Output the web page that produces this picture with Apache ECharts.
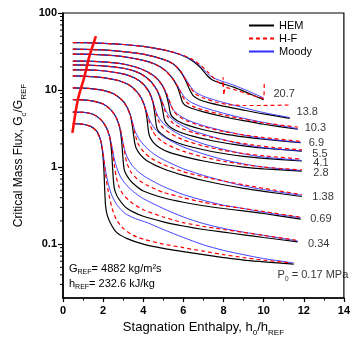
<!DOCTYPE html>
<html><head><meta charset="utf-8">
<script src="https://cdn.jsdelivr.net/npm/echarts@6/dist/echarts.min.js"></script>
<style>html,body{margin:0;padding:0;background:#fff}#c{width:353px;height:342px}</style>
</head><body><div id="c"></div>
<script>
// ---- tick labels / axis ----
const xTicks = [0, 2, 4, 6, 8, 10, 12, 14];
const yMinorTicks = [0.03,0.04,0.05,0.06,0.07,0.08,0.09,0.2,0.3,0.4,0.5,0.6,0.7,0.8,0.9,2,3,4,5,6,7,8,9,20,30,40,50,60,70,80,90];

// ---- pressure labels (MPa) and text anchor positions ----
const pressures = ['0.17','0.34','0.69','1.38','2.8','4.1','5.5','6.9','10.3','13.8','20.7'];
const labelPos = [[10.44,0.041],[11.96,0.104],[12.07,0.219],[12.18,0.427],[12.23,0.855],[12.23,1.15],[12.18,1.53],[12.0,2.15],[11.8,3.3],[11.39,5.35],[10.24,9.15]];

// ---- HEM ----
const hem017 = [[0.49,3.67],[1,3.6],[1.4,3.35],[1.7,2.9],[1.88,2.2],[1.98,1.5],[2.04,0.9],[2.08,0.5],[2.12,0.32],[2.2,0.24],[2.4,0.18],[2.7,0.14],[3.2,0.118],[4,0.1],[5,0.088],[6,0.08],[7,0.073],[8,0.067],[9,0.062],[10,0.059],[11.5,0.055]];
const hem034 = [[0.49,5.17],[1,5.15],[1.5,4.85],[1.9,4.1],[2.15,3.3],[2.32,2.5],[2.42,1.6],[2.48,0.9],[2.53,0.6],[2.6,0.48],[2.8,0.38],[3.2,0.29],[4,0.23],[5,0.195],[6,0.172],[7,0.155],[8,0.143],[9,0.132],[10,0.122],[11.7,0.107]];
const hem069 = [[0.49,7.5],[1,7.45],[1.5,7.2],[2,6.6],[2.4,5.5],[2.65,4.4],[2.82,3.3],[2.92,2.2],[2.98,1.4],[3.03,1.0],[3.1,0.85],[3.3,0.7],[3.6,0.58],[4,0.49],[5,0.4],[6,0.35],[7,0.315],[8,0.29],[9,0.27],[10,0.25],[11.85,0.211]];
const hem138 = [[0.49,10.7],[1,10.6],[1.5,10.35],[2,9.9],[2.5,9],[2.9,7.6],[3.15,6.3],[3.35,4.8],[3.45,3.5],[3.52,2.6],[3.57,2.1],[3.65,1.75],[3.85,1.45],[4.2,1.2],[5,0.95],[6,0.78],[7,0.67],[8,0.59],[9,0.53],[10,0.485],[11.9,0.415]];
const hem28 = [[0.49,15.3],[1,15.2],[2,14.5],[2.8,13.2],[3.3,11.6],[3.7,9.4],[3.95,7.5],[4.12,5.5],[4.2,4],[4.26,2.9],[4.32,2.5],[4.5,2.1],[4.8,1.8],[5.3,1.55],[6,1.38],[7,1.2],[8,1.08],[9,1.0],[10,0.95],[11.9,0.887]];
const hem41 = [[0.49,18.3],[1,18.3],[2,17.8],[3,16.2],[3.6,14.2],[4,12],[4.3,9.4],[4.48,7],[4.58,4.8],[4.64,3.6],[4.7,3.1],[4.9,2.7],[5.3,2.3],[6,1.95],[7,1.68],[8,1.5],[9,1.38],[10,1.3],[11.9,1.2]];
const hem55 = [[0.49,21.2],[1,21.1],[2,20.6],[3,19.2],[3.6,17.5],[4,15.6],[4.4,12.8],[4.7,9.8],[4.88,7.2],[4.98,5.3],[5.04,4.3],[5.12,3.8],[5.35,3.3],[5.8,2.85],[6.5,2.5],[7.5,2.18],[8.5,1.97],[9.5,1.82],[10.5,1.72],[11.9,1.61]];
const hem69 = [[0.49,23.7],[1,23.7],[2,23.2],[3,21.8],[3.7,19.6],[4.2,17.3],[4.6,14.8],[4.95,11.5],[5.15,8.7],[5.28,6.3],[5.35,5.0],[5.45,4.5],[5.7,4.0],[6.2,3.5],[7,3.05],[8,2.7],[9,2.47],[10,2.3],[11.85,2.07]];
const hem103 = [[0.49,29.2],[1,29.2],[2,28.6],[3,27.2],[4,24.3],[4.6,21.6],[5.1,18],[5.45,14.3],[5.7,11],[5.85,8.5],[5.95,7],[6.1,6.3],[6.4,5.8],[7,5.2],[8,4.5],[9,4.0],[10,3.6],[11.7,3.1]];
const hem138b = [[0.49,33.9],[1,33.8],[2,33.2],[3,31.6],[4,29.2],[5,25],[5.5,21.8],[5.85,17.5],[6.1,13.5],[6.3,10.3],[6.5,8.4],[6.8,7.5],[7.3,6.8],[8,6.2],[9,5.5],[10,4.9],[11.3,4.3]];
const hem207 = [[0.49,41.2],[1,41.2],[2,40.4],[3,39],[4,36.8],[5,33.3],[5.6,30.3],[6.1,27],[6.5,23.5],[6.85,19.5],[7.15,15.8],[7.45,13.5],[7.9,12.2],[8.5,10.9],[9.2,9.2],[10,7.5]];

// ---- H-F ----
const hf017 = [[0.49,3.67],[1,3.6],[1.4,3.35],[1.7,2.85],[1.9,2.1],[2.02,1.4],[2.1,0.9],[2.2,0.58],[2.32,0.4],[2.45,0.29],[2.65,0.21],[3,0.16],[3.5,0.13],[4,0.116],[5,0.1],[6,0.09],[7,0.081],[8,0.073],[9,0.067],[10,0.062],[11.4,0.057]];
const hf034 = [[0.49,5.17],[1,5.15],[1.5,4.85],[1.9,4.1],[2.15,3.3],[2.32,2.5],[2.45,1.7],[2.55,1.1],[2.65,0.75],[2.8,0.55],[3.0,0.44],[3.4,0.35],[4,0.28],[5,0.225],[6,0.19],[7,0.17],[8,0.155],[9,0.142],[10,0.13],[11.6,0.113]];
const hf069 = [[0.49,7.5],[1,7.45],[1.5,7.2],[2,6.6],[2.4,5.5],[2.65,4.4],[2.85,3.2],[2.98,2.2],[3.08,1.5],[3.2,1.1],[3.4,0.85],[3.7,0.7],[4.2,0.58],[5,0.47],[6,0.4],[7,0.35],[8,0.315],[9,0.29],[10,0.265],[11.8,0.225]];
const hf138 = [[0.49,10.7],[1,10.6],[1.5,10.35],[2,9.9],[2.5,9],[2.9,7.6],[3.15,6.2],[3.35,4.7],[3.5,3.4],[3.62,2.5],[3.75,2.0],[4.0,1.6],[4.4,1.3],[5,1.08],[6,0.87],[7,0.75],[8,0.66],[9,0.59],[10,0.53],[11.9,0.44]];
const hf28 = [[0.49,15.3],[1,15.2],[2,14.5],[2.8,13.2],[3.3,11.6],[3.7,9.3],[3.95,7.3],[4.15,5.3],[4.3,3.9],[4.45,3.0],[4.65,2.5],[5,2.1],[5.5,1.8],[6,1.6],[7,1.35],[8,1.19],[9,1.08],[10,1.0],[11.9,0.92]];
const hf41 = [[0.49,18.3],[1,18.3],[2,17.8],[3,16.2],[3.6,14.2],[4,11.9],[4.3,9.2],[4.5,6.8],[4.65,4.9],[4.8,3.8],[5.0,3.2],[5.4,2.7],[6,2.25],[7,1.88],[8,1.65],[9,1.5],[10,1.4],[11.9,1.27]];
const hf55 = [[0.49,21.2],[1,21.1],[2,20.6],[3,19.2],[3.6,17.5],[4,15.5],[4.4,12.6],[4.7,9.7],[4.92,7.2],[5.08,5.4],[5.22,4.5],[5.45,3.8],[5.9,3.2],[6.5,2.8],[7.5,2.4],[8.5,2.12],[9.5,1.93],[10.5,1.8],[11.9,1.67]];
const hf69 = [[0.49,23.7],[1,23.7],[2,23.2],[3,21.8],[3.7,19.5],[4.2,17.2],[4.6,14.6],[4.95,11.5],[5.2,8.6],[5.38,6.4],[5.52,5.3],[5.75,4.6],[6.2,3.95],[7,3.35],[8,2.9],[9,2.62],[10,2.42],[11.9,2.15]];
const hf103 = [[0.49,29.2],[1,29.2],[2,28.6],[3,27.2],[4,24.2],[4.6,21.5],[5.1,17.8],[5.45,14.2],[5.75,10.8],[5.95,8.4],[6.15,7],[6.5,6.1],[7,5.5],[8,4.75],[9,4.2],[10,3.75],[11.7,3.3]];
const hf138b = [[0.49,33.9],[1,33.8],[2,33.2],[3,31.6],[4,29.2],[5,25],[5.5,21.8],[5.85,17.8],[6.1,13.8],[6.35,10.8],[6.6,8.9],[7,7.9],[7.6,7.0],[8.2,6.5],[9,6.3],[10,6.3],[11.3,6.4]];
const hf207 = [[0.49,41.2],[1,41.2],[2,40.4],[3,39],[4,36.8],[5,33.3],[5.6,30.5],[6.1,27.5],[6.5,24.5],[6.9,20.5],[7.25,16.8],[7.6,13.6],[7.95,11.5],[7.98,14.6],[8.02,8.6],[8.1,10.8],[8.6,10],[9.2,8.9],[9.8,8],[10.0,7.8],[10.03,12.4]];

// ---- Moody ----
const mo017 = [[0.49,3.67],[1,3.6],[1.4,3.35],[1.7,2.85],[1.9,2.1],[2.0,1.5],[2.08,1.05],[2.18,0.75],[2.3,0.55],[2.45,0.42],[2.7,0.32],[3.1,0.25],[3.6,0.215],[4.2,0.19],[5,0.155],[6,0.122],[7,0.098],[8,0.083],[9,0.073],[10,0.065],[11.5,0.057]];
const mo034 = [[0.49,5.17],[1,5.15],[1.5,4.85],[1.9,4.1],[2.15,3.3],[2.32,2.5],[2.45,1.8],[2.55,1.3],[2.7,0.95],[2.9,0.72],[3.2,0.57],[3.6,0.46],[4,0.39],[5,0.29],[6,0.225],[7,0.185],[8,0.16],[9,0.143],[10,0.13],[11.7,0.11]];
const mo069 = [[0.49,7.5],[1,7.45],[1.5,7.2],[2,6.6],[2.4,5.5],[2.65,4.4],[2.82,3.3],[2.94,2.4],[3.05,1.75],[3.2,1.35],[3.45,1.05],[3.8,0.85],[4.2,0.72],[5,0.56],[6,0.44],[7,0.37],[8,0.32],[9,0.29],[10,0.26],[11.85,0.22]];
const mo138 = [[0.49,10.7],[1,10.6],[1.5,10.35],[2,9.9],[2.5,9],[2.9,7.6],[3.15,6.2],[3.35,4.8],[3.48,3.7],[3.6,2.9],[3.8,2.3],[4.1,1.85],[4.5,1.5],[5,1.25],[6,0.95],[7,0.78],[8,0.66],[9,0.57],[10,0.51],[11.9,0.43]];
const mo28 = [[0.49,15.3],[1,15.2],[2,14.5],[2.8,13.2],[3.3,11.6],[3.7,9.4],[3.95,7.5],[4.12,5.7],[4.25,4.5],[4.4,3.7],[4.65,3.0],[5,2.5],[5.5,2.1],[6,1.82],[7,1.48],[8,1.25],[9,1.1],[10,1.0],[11.9,0.9]];
const mo41 = [[0.49,18.3],[1,18.3],[2,17.8],[3,16.2],[3.6,14.2],[4,12],[4.3,9.4],[4.48,7.2],[4.6,5.6],[4.75,4.5],[5,3.7],[5.4,3.05],[6,2.5],[7,2.0],[8,1.7],[9,1.48],[10,1.35],[11.9,1.22]];
const mo55 = [[0.49,21.2],[1,21.1],[2,20.6],[3,19.2],[3.6,17.5],[4,15.6],[4.4,12.8],[4.7,9.9],[4.9,7.6],[5.05,6],[5.2,5.0],[5.45,4.2],[5.9,3.5],[6.5,2.95],[7.5,2.45],[8.5,2.1],[9.5,1.87],[10.5,1.73],[11.9,1.62]];
const mo69 = [[0.49,23.7],[1,23.7],[2,23.2],[3,21.8],[3.7,19.6],[4.2,17.3],[4.6,14.8],[4.95,11.6],[5.15,9],[5.3,7],[5.45,5.8],[5.7,4.9],[6.2,4.1],[7,3.45],[8,2.95],[9,2.6],[10,2.35],[11.85,2.08]];
const mo103 = [[0.49,29.2],[1,29.2],[2,28.6],[3,27.2],[4,24.3],[4.6,21.6],[5.1,18],[5.45,14.5],[5.7,11.5],[5.9,9.3],[6.1,7.9],[6.4,6.9],[7,5.95],[8,5.0],[9,4.3],[10,3.8],[11.7,3.15]];
const mo138b = [[0.49,33.9],[1,33.8],[2,33.2],[3,31.6],[4,29.2],[5,25],[5.5,21.8],[5.85,17.8],[6.1,14.2],[6.35,11.2],[6.6,9.4],[7,8.3],[7.5,7.5],[8,6.9],[9,5.9],[10,5.1],[11.3,4.4]];
const mo207 = [[0.49,41.2],[1,41.2],[2,40.4],[3,39],[4,36.8],[5,33.3],[5.6,30.3],[6.1,27.2],[6.5,24],[6.85,20.5],[7.15,17],[7.45,14.6],[7.9,13.1],[8.5,11.6],[9.2,9.8],[10,7.9]];

// ---- thick red line at left ----
const redLine = [[0.47,2.78],[0.74,7.5],[1.07,15],[1.31,27.2],[1.55,42.5],[1.64,50]];

const hemSets = [hem017,hem034,hem069,hem138,hem28,hem41,hem55,hem69,hem103,hem138b,hem207];
const hfSets = [hf017,hf034,hf069,hf138,hf28,hf41,hf55,hf69,hf103,hf138b,hf207];
const moSets = [mo017,mo034,mo069,mo138,mo28,mo41,mo55,mo69,mo103,mo138b,mo207];

const FONT = 'Liberation Sans, Arial, Helvetica, sans-serif';
const series = [];
hemSets.forEach(d => series.push({name:'HEM', type:'line', data:d, symbol:'none', smooth:0.25, lineStyle:{color:'#000', width:1.2}, itemStyle:{color:'#000'}, z:2}));
moSets.forEach(d => series.push({name:'Moody', type:'line', data:d, symbol:'none', smooth:0.25, lineStyle:{color:'#2f2fff', width:0.9}, itemStyle:{color:'#2f2fff'}, z:3}));
hfSets.forEach(d => series.push({name:'H-F', type:'line', data:d, symbol:'none', smooth:0.2, lineStyle:{color:'#ff0000', width:1.2, type:[4,3]}, itemStyle:{color:'#ff0000'}, z:4}));
series.push({name:'sat', type:'line', data:redLine, symbol:'none', smooth:0.3, lineStyle:{color:'#ff1010', width:2.6}, z:5});
series.push({type:'custom', coordinateSystem:'cartesian2d', clip:false, silent:true, z:6,
  data: yMinorTicks.map(v => [0, v]),
  renderItem: (params, api) => {
    const p = api.coord([0, api.value(1)]);
    return {type:'line', shape:{x1:p[0]-3, y1:p[1], x2:p[0], y2:p[1]}, style:{stroke:'#000', lineWidth:1}};
  }});
const labelData = pressures.map((p, i) => ({value:[labelPos[i][0], labelPos[i][1]], name:p}));
series.push({type:'scatter', symbolSize:0, silent:true, z:7, data: labelData,
  label:{show:true, position:'right', distance:0, offset:[5,1], color:'#000', fontFamily:FONT, fontSize:11,
    formatter: p => p.name === '0.17' ? '{n|P}{s|0}{n| = 0.17 MPa}' : p.name,
    rich:{n:{fontSize:11, fontFamily:FONT, color:'#000'}, s:{fontSize:7, fontFamily:FONT, color:'#000', verticalAlign:'bottom', padding:[0,0,-2,0]}}}});

const chart = echarts.init(document.getElementById('c'));
chart.setOption({
  animation:false,
  backgroundColor:'#fff',
  grid:{left:63, right:3, top:13, bottom:44, show:true, borderColor:'#000', borderWidth:1.2},
  legend:{data:['HEM','H-F','Moody'], orient:'vertical', left:243, top:15, itemWidth:25, itemHeight:10, itemGap:2,
    itemStyle:{opacity:0, borderWidth:0}, textStyle:{fontFamily:FONT, fontSize:11, color:'#000'}},
  xAxis:{type:'value', min:0, max:14, interval:2,
    name:'{n|Stagnation Enthalpy, h}{s|0}{n|/h}{s|REF}', nameLocation:'middle', nameGap:22,
    nameTextStyle:{rich:{n:{fontSize:13, fontFamily:FONT, color:'#000'}, s:{fontSize:8, fontFamily:FONT, color:'#000', verticalAlign:'bottom', padding:[0,0,-3,0]}}},
    axisLine:{lineStyle:{color:'#000', width:1.6}},
    axisTick:{length:4, lineStyle:{color:'#000', width:1.2}},
    minorTick:{show:true, splitNumber:2, length:2.5, lineStyle:{color:'#000', width:1}},
    axisLabel:{color:'#000', fontWeight:'bold', fontSize:11, fontFamily:FONT, margin:7},
    splitLine:{show:false}},
  yAxis:{type:'log', logBase:10, min:0.02, max:100,
    name:'{n|Critical Mass Flux, G}{s|c}{n|/G}{s|REF}', nameLocation:'middle', nameGap:38,
    nameTextStyle:{rich:{n:{fontSize:12, fontFamily:FONT, color:'#000'}, s:{fontSize:8, fontFamily:FONT, color:'#000', verticalAlign:'bottom', padding:[0,0,-3,0]}}},
    axisLine:{lineStyle:{color:'#000', width:1.6}},
    axisTick:{length:5, lineStyle:{color:'#000', width:1.2}},
    axisLabel:{color:'#000', fontWeight:'bold', fontSize:11, fontFamily:FONT, margin:6, showMinLabel:false},
    splitLine:{show:false}},
  graphic:[
    {type:'text', left:69, top:263, style:{text:'{n|G}{s|REF}{n|= 4882 kg/m²s}', rich:{n:{fontSize:11, fontFamily:FONT, fill:'#000'}, s:{fontSize:7, fontFamily:FONT, fill:'#000', verticalAlign:'bottom', padding:[0,0,-2,0]}}}},
    {type:'text', left:69, top:278, style:{text:'{n|h}{s|REF}{n|= 232.6 kJ/kg}', rich:{n:{fontSize:11, fontFamily:FONT, fill:'#000'}, s:{fontSize:7, fontFamily:FONT, fill:'#000', verticalAlign:'bottom', padding:[0,0,-2,0]}}}}
  ],
  series: series
});
</script></body></html>
